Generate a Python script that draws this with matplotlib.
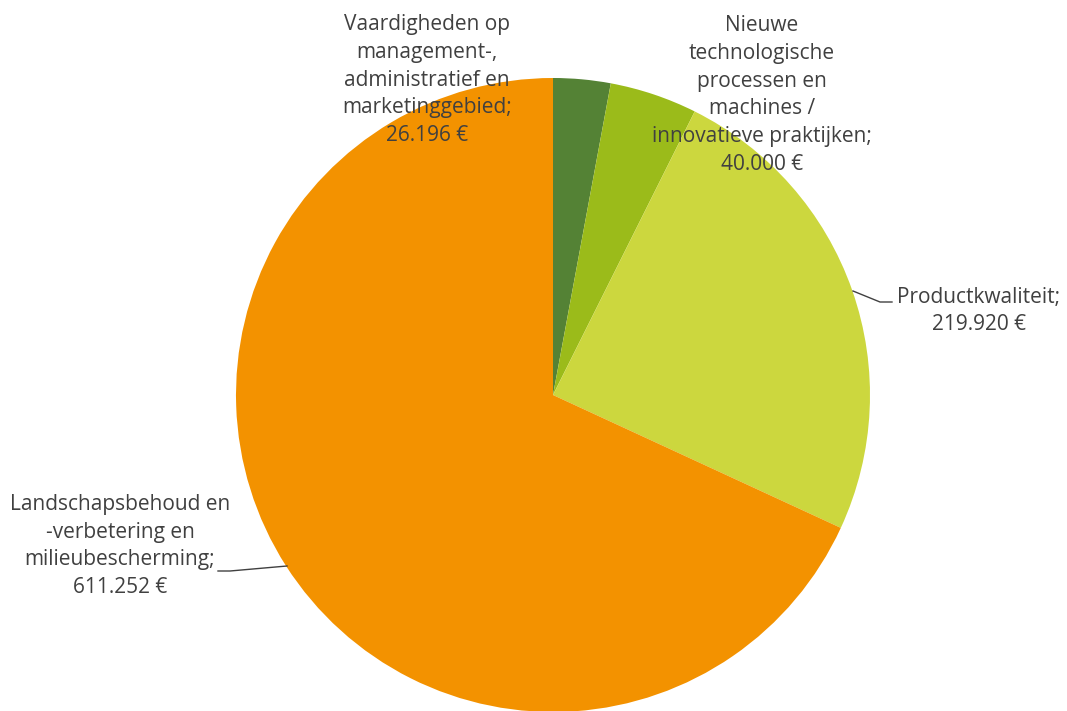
import matplotlib.pyplot as plt

labels = ["Vaardigheden op\nmanagement-,\nadministratief en\nmarketinggebied;\n26.196 €",
          "Nieuwe\ntechnologische\nprocessen en\nmachines /\ninnovatieve praktijken;\n40.000 €",
          "Productkwaliteit;\n219.920 €",
          "Landschapsbehoud en\n-verbetering en\nmilieubescherming;\n611.252 €"]
values = [26196, 40000, 219920, 611252]
colors = ["#548235", "#9bbb1a", "#ccd73e", "#f39200"]

W, H = 1067, 711
cx, cy, r = 553, 395, 317


def px(x, y):
    # pixel position -> data coords (pie radius = 1)
    return (x - cx) / r, (cy - y) / r


fig = plt.figure(figsize=(W / 100, H / 100), dpi=100)
ax = fig.add_axes([0, 0, 1, 1])
ax.pie(values, colors=colors, startangle=90, counterclock=False, radius=1,
       wedgeprops=dict(linewidth=0))
ax.set_xlim(px(0, 0)[0], px(W, 0)[0])
ax.set_ylim(px(0, H)[1], px(0, 0)[1])
ax.set_aspect("auto")
ax.axis("off")

txt = dict(ha="center", va="center", fontsize=15, color="#404040",
           family="Open Sans", linespacing=1.42)
ax.text(*px(427, 80), labels[0], **txt)
ax.text(*px(762, 95), labels[1], **txt)
ax.text(*px(979, 311), labels[2], **txt)
ax.text(*px(120, 546), labels[3], **txt)

# leader lines
ax.plot(*zip(px(853, 291), px(880, 302), px(892, 302)), color="#404040", lw=1)
ax.plot(*zip(px(287, 566), px(230, 571), px(218, 571)), color="#404040", lw=1)

fig.savefig("out.png", dpi=100)
